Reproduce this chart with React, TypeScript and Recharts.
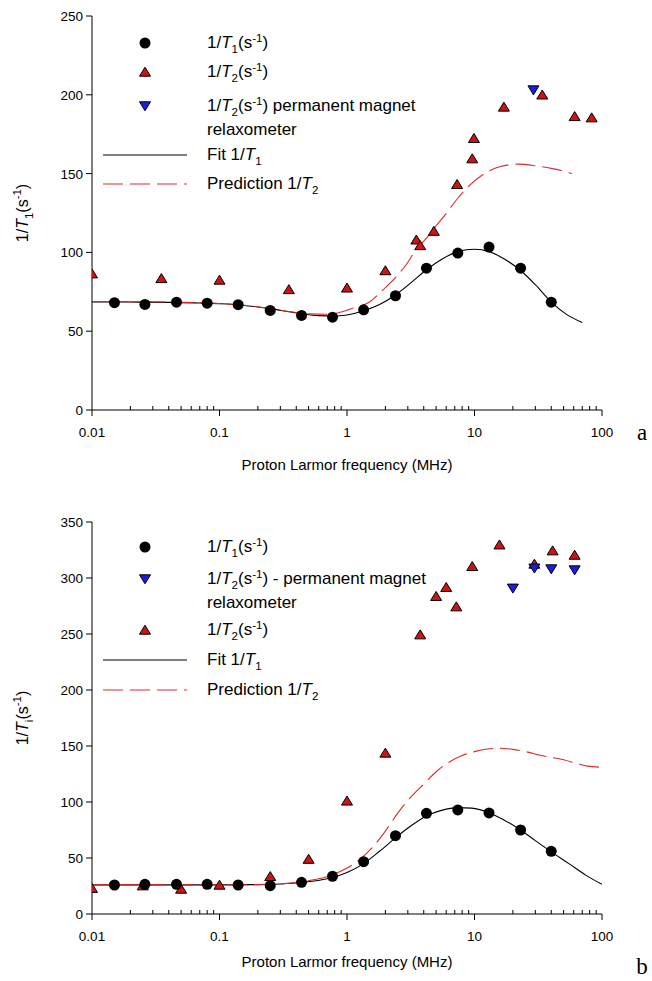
import React from 'react';
import { ComposedChart, Line, Scatter, XAxis, YAxis, Legend } from 'recharts';

// panel a: measured 1/T1
const t1FreqA = [0.015, 0.026, 0.046, 0.08, 0.14, 0.25, 0.44, 0.77, 1.35, 2.4, 4.2, 7.4, 13, 23, 40];
const t1ValA = [68.1, 67, 68.4, 67.8, 66.8, 63.2, 60, 58.9, 63.6, 72.5, 90, 99.6, 103.4, 90, 68.4];
// panel a: measured 1/T2 (FFC)
const t2FreqA = [0.01, 0.035, 0.1, 0.35, 1, 2, 3.5, 3.75, 4.8, 7.3, 9.6, 9.9, 17, 34, 61, 83];
const t2ValA = [86.5, 83.5, 82.5, 76.5, 77.5, 88.5, 108, 104.4, 113.5, 143.2, 159.5, 172.4, 192.3, 200, 186.3, 185.5];
// panel a: permanent magnet relaxometer
const pmFreqA = [29];
const pmValA = [203];
// panel a: fit 1/T1
const fitFreqA = [0.01, 0.02, 0.04, 0.07, 0.1, 0.15, 0.25, 0.4, 0.6, 0.8, 1, 1.35, 1.8, 2.4, 3.2, 4.2, 5.5, 7.4, 10, 13, 17, 23, 30, 40, 52, 70];
const fitValA = [68.6, 68.5, 68.3, 67.9, 67.4, 66.5, 64.3, 61.6, 59.9, 59.6, 60.3, 63, 67, 73, 81, 89, 95.5, 100.5, 102, 100.5, 96, 88.5, 79.5, 68.5, 61, 55.5];
// panel a: prediction 1/T2
const predFreqA = [0.01, 0.04, 0.1, 0.2, 0.35, 0.5, 0.7, 0.9, 1.1, 1.5, 1.9, 2.4, 2.9, 3.5, 4.2, 4.8, 5.9, 7.5, 9, 12, 16, 22, 30, 42, 58];
const predValA = [68.8, 68.5, 67.6, 65.5, 62.5, 61, 60.8, 62.2, 64.5, 68.5, 76, 84, 92, 102, 109, 115, 124, 135, 142, 150, 154.5, 156, 155, 153, 150];

// panel b: measured 1/T1
const t1FreqB = [0.015, 0.026, 0.046, 0.08, 0.14, 0.25, 0.44, 0.77, 1.35, 2.4, 4.2, 7.4, 13, 23, 40];
const t1ValB = [25.9, 26.5, 26.5, 26.5, 25.9, 25.3, 28.3, 33.7, 46.7, 69.9, 89.9, 92.9, 90.2, 75, 56];
// panel b: permanent magnet relaxometer
const pmFreqB = [20, 29.5, 40, 61];
const pmValB = [290.8, 308.7, 308, 307.1];
// panel b: measured 1/T2 (FFC)
const t2FreqB = [0.01, 0.025, 0.05, 0.1, 0.25, 0.5, 1, 2, 3.75, 5, 6, 7.2, 9.6, 15.7, 29.5, 41, 61];
const t2ValB = [23, 25.3, 22.3, 25.9, 33.6, 49, 101, 143.8, 249.4, 283.7, 291.7, 274.4, 310.4, 329.7, 312.5, 324.4, 320.5];
// panel b: fit 1/T1
const fitFreqB = [0.01, 0.1, 0.2, 0.3, 0.45, 0.7, 1, 1.35, 1.8, 2.4, 3.2, 4.2, 5.5, 7.4, 9.5, 13, 17, 23, 30, 40, 55, 75, 100];
const fitValB = [26, 26, 26.2, 26.8, 28.3, 31.5, 37, 45, 56, 68, 79, 87.5, 92.5, 95, 94.5, 90.5, 84, 75, 65.5, 55.5, 45, 34.5, 26.5];
// panel b: prediction 1/T2
const predFreqB = [0.01, 0.1, 0.25, 0.45, 0.7, 1, 1.3, 1.6, 2, 2.5, 3.2, 4, 5, 6.4, 8, 10, 13, 16, 20, 25, 35, 50, 65, 77, 100];
const predValB = [26, 26, 26.5, 29, 33.5, 41, 50, 60, 74, 90, 105, 116, 127, 136, 141.5, 145, 147.5, 148, 147, 145, 141, 137.8, 134, 132, 131];

// axes
const majorTicks = [0.01, 0.1, 1, 10, 100];
const majorLabels = ['0.01', '0.1', '1', '10', '100'];
const minorSteps = [2, 3, 4, 5, 6, 7, 8, 9];
const yTicksA = [0, 50, 100, 150, 200, 250];
const yTicksB = [0, 50, 100, 150, 200, 250, 300, 350];

const RED = '#cc1414';
const BLUE = '#1c1ce6';
const DASH_RED = '#de2a2a';
const FONT = '"Liberation Sans", Arial, sans-serif';

const xTicks = [
  ...majorTicks,
  ...majorTicks.slice(0, 4).flatMap((d) => minorSteps.map((m) => d * m)),
].sort((a, b) => a - b);

const pts = (f: number[], v: number[]) => f.map((x, i) => ({ f: x, v: v[i] }));

const DotShape = (p: any) =>
  p.cx == null ? <g /> : <circle cx={p.cx} cy={p.cy} r={5.5} fill="#000" />;

const UpShape = (p: any) =>
  p.cx == null ? <g /> : (
    <path
      d={`M${p.cx},${p.cy - 4.8} L${p.cx + 5.5},${p.cy + 4.2} L${p.cx - 5.5},${p.cy + 4.2} Z`}
      fill={RED}
      stroke="#000"
      strokeWidth={1}
    />
  );

const DownShape = (p: any) =>
  p.cx == null ? <g /> : (
    <path
      d={`M${p.cx},${p.cy + 4.8} L${p.cx + 5.5},${p.cy - 4.2} L${p.cx - 5.5},${p.cy - 4.2} Z`}
      fill={BLUE}
      stroke="#000"
      strokeWidth={1}
    />
  );

const XTick = (p: any) => {
  const v = p.payload.value;
  const idx = majorTicks.findIndex((m) => Math.abs(m - v) / m < 1e-6);
  if (idx < 0) return <line x1={p.x} x2={p.x} y1={p.y} y2={p.y - 4} stroke="#000" />;
  return (
    <g>
      <line x1={p.x} x2={p.x} y1={p.y} y2={p.y + 6} stroke="#000" />
      <text x={p.x} y={p.y + 27} textAnchor="middle" fontSize={13.5} fontFamily={FONT} fill="#000">
        {majorLabels[idx]}
      </text>
    </g>
  );
};

const YTick = (p: any) => (
  <g>
    <line x1={p.x - 6} x2={p.x} y1={p.y} y2={p.y} stroke="#000" />
    <text x={p.x - 9} y={p.y + 5} textAnchor="end" fontSize={13.5} fontFamily={FONT} fill="#000">
      {p.payload.value}
    </text>
  </g>
);

const Sub = ({ c }: { c: string }) => (
  <span style={{ fontSize: '0.68em', position: 'relative', top: '0.42em' }}>{c}</span>
);
const Sup = ({ c }: { c: string }) => (
  <span style={{ fontSize: '0.68em', position: 'relative', top: '-0.5em' }}>{c}</span>
);
const Rate = ({ n }: { n: string }) => (
  <>
    1/<i>T</i>
    <Sub c={n} />
  </>
);
const Unit = () => (
  <>
    (s<Sup c="-1" />)
  </>
);

type Row = { kind: string; y: number; text: React.ReactNode; extra?: React.ReactNode };

const LegendBox = ({ rows }: { rows: Row[] }) => (
  <div style={{ position: 'relative', height: 0, width: 652, fontFamily: FONT, fontSize: 17, color: '#000' }}>
    {rows.map((r, i) => (
      <React.Fragment key={i}>
        <svg style={{ position: 'absolute', left: 100, top: r.y - 10 }} width={90} height={20}>
          {r.kind === 'dot' && <DotShape cx={45} cy={10} />}
          {r.kind === 'up' && <UpShape cx={45} cy={10} />}
          {r.kind === 'down' && <DownShape cx={45} cy={10} />}
          {r.kind === 'solid' && <line x1={3} x2={87} y1={10} y2={10} stroke="#000" strokeWidth={1.1} />}
          {r.kind === 'dash' && (
            <line x1={3} x2={87} y1={10} y2={10} stroke={DASH_RED} strokeWidth={1.1} strokeDasharray="20 7" />
          )}
        </svg>
        <div style={{ position: 'absolute', left: 207, top: r.y - 11, lineHeight: '22px', whiteSpace: 'nowrap' }}>
          {r.text}
        </div>
        {r.extra && (
          <div style={{ position: 'absolute', left: 207, top: r.y + 13, lineHeight: '22px', whiteSpace: 'nowrap' }}>
            {r.extra}
          </div>
        )}
      </React.Fragment>
    ))}
  </div>
);

const rowsA: Row[] = [
  { kind: 'dot', y: 43, text: <><Rate n="1" /><Unit /></> },
  { kind: 'up', y: 72, text: <><Rate n="2" /><Unit /></> },
  { kind: 'down', y: 106, text: <><Rate n="2" /><Unit /> permanent magnet</>, extra: 'relaxometer' },
  { kind: 'solid', y: 155, text: <>Fit <Rate n="1" /></> },
  { kind: 'dash', y: 184, text: <>Prediction <Rate n="2" /></> },
];

const rowsB: Row[] = [
  { kind: 'dot', y: 57, text: <><Rate n="1" /><Unit /></> },
  { kind: 'down', y: 89, text: <><Rate n="2" /><Unit /> - permanent magnet</>, extra: 'relaxometer' },
  { kind: 'up', y: 140, text: <><Rate n="2" /><Unit /></> },
  { kind: 'solid', y: 170, text: <>Fit <Rate n="1" /></> },
  { kind: 'dash', y: 200, text: <>Prediction <Rate n="2" /></> },
];

const YTitle = ({ cy, sub }: { cy: number; sub: string }) => (
  <text
    transform={`translate(28, ${cy}) rotate(-90)`}
    textAnchor="middle"
    fontSize={16}
    fontFamily={FONT}
    fill="#000"
  >
    <tspan>1/</tspan>
    <tspan fontStyle="italic">T</tspan>
    <tspan fontSize={11.5} dy={5}>{sub}</tspan>
    <tspan dy={-5}>(s</tspan>
    <tspan fontSize={11.5} dy={-7}>-1</tspan>
    <tspan dy={7}>)</tspan>
  </text>
);

const XTitle = ({ y, tag, tagY }: { y: number; tag: string; tagY: number }) => (
  <g>
    <text x={347} y={y} textAnchor="middle" fontSize={15} fontFamily={FONT} fill="#000">
      Proton Larmor frequency (MHz)
    </text>
    <text x={642} y={tagY} textAnchor="middle" fontSize={23} fontFamily='"Liberation Serif", serif' fill="#000">
      {tag}
    </text>
  </g>
);

type PanelProps = {
  height: number;
  top: number;
  xAxisH: number;
  yMax: number;
  yTicks: number[];
  fit: { f: number; v: number }[];
  pred: { f: number; v: number }[];
  dots: { f: number; v: number }[];
  ups: { f: number; v: number }[];
  downs: { f: number; v: number }[];
  rows: Row[];
  yTitle: React.ReactNode;
  xTitle: React.ReactNode;
};

const Panel = (p: PanelProps) => (
  <ComposedChart
    width={652}
    height={p.height}
    margin={{ top: p.top, right: 50, bottom: 0, left: 0 }}
  >
    <XAxis
      dataKey="f"
      type="number"
      scale="log"
      domain={[0.01, 100]}
      allowDataOverflow
      ticks={xTicks}
      interval={0}
      tick={<XTick />}
      tickLine={false}
      tickSize={0}
      tickMargin={0}
      height={p.xAxisH}
      stroke="#000"
      label={() => p.xTitle}
    />
    <XAxis xAxisId="top" orientation="top" type="number" domain={[0, 1]} tick={false} tickLine={false} height={0} stroke="#000" />
    <YAxis
      dataKey="v"
      type="number"
      domain={[0, p.yMax]}
      ticks={p.yTicks}
      interval={0}
      tick={<YTick />}
      tickLine={false}
      tickSize={0}
      tickMargin={0}
      width={92}
      stroke="#000"
      label={() => p.yTitle}
    />
    <YAxis yAxisId="right" orientation="right" type="number" domain={[0, 1]} tick={false} tickLine={false} width={0} stroke="#000" />
    <Legend
      verticalAlign="middle"
      align="center"
      wrapperStyle={{ left: 0, top: 0, width: 652, height: 0 }}
      content={() => <LegendBox rows={p.rows} />}
    />
    <Line data={p.fit} dataKey="v" type="monotone" stroke="#000" strokeWidth={1.1} dot={false} activeDot={false} isAnimationActive={false} legendType="none" />
    <Line data={p.pred} dataKey="v" type="monotone" stroke={DASH_RED} strokeWidth={1.1} strokeDasharray="20 7" dot={false} activeDot={false} isAnimationActive={false} legendType="none" />
    <Scatter data={p.ups} dataKey="v" shape={<UpShape />} isAnimationActive={false} legendType="none" />
    <Scatter data={p.downs} dataKey="v" shape={<DownShape />} isAnimationActive={false} legendType="none" />
    <Scatter data={p.dots} dataKey="v" shape={<DotShape />} isAnimationActive={false} legendType="none" />
  </ComposedChart>
);

export default function App() {
  return (
    <div style={{ position: 'absolute', left: 0, top: 0, width: 652, height: 981, background: '#fff' }}>
      <div style={{ position: 'absolute', left: 0, top: 0 }}>
        <Panel
          height={490}
          top={16}
          xAxisH={80}
          yMax={250}
          yTicks={yTicksA}
          fit={pts(fitFreqA, fitValA)}
          pred={pts(predFreqA, predValA)}
          dots={pts(t1FreqA, t1ValA)}
          ups={pts(t2FreqA, t2ValA)}
          downs={pts(pmFreqA, pmValA)}
          rows={rowsA}
          yTitle={<YTitle cy={213} sub="1" />}
          xTitle={<XTitle y={470} tag="a" tagY={440} />}
        />
      </div>
      <div style={{ position: 'absolute', left: 0, top: 490 }}>
        <Panel
          height={491}
          top={32}
          xAxisH={67}
          yMax={350}
          yTicks={yTicksB}
          fit={pts(fitFreqB, fitValB)}
          pred={pts(predFreqB, predValB)}
          dots={pts(t1FreqB, t1ValB)}
          ups={pts(t2FreqB, t2ValB)}
          downs={pts(pmFreqB, pmValB)}
          rows={rowsB}
          yTitle={<YTitle cy={228} sub="i" />}
          xTitle={<XTitle y={477} tag="b" tagY={484} />}
        />
      </div>
    </div>
  );
}
